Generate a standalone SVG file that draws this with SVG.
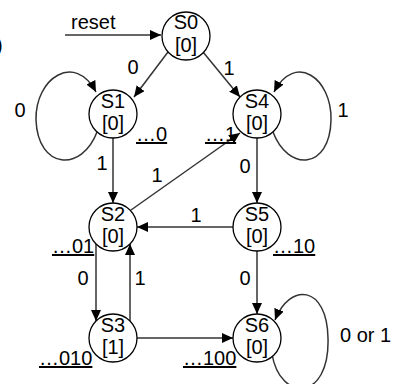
<svg xmlns="http://www.w3.org/2000/svg" width="395" height="384" viewBox="0 0 395 384">
<defs>
<marker id="ah" markerWidth="11" markerHeight="10" refX="11" refY="5" orient="auto" markerUnits="userSpaceOnUse">
<path d="M0,0 L11,5 L0,10 Z" fill="#000"/>
</marker>
<style>
text{font-family:"Liberation Sans",Arial,sans-serif;font-size:20px;fill:#000}
.st{text-anchor:middle}
.c{fill:#fff;stroke:#000;stroke-width:1.3}
.e{fill:none;stroke:#333;stroke-width:1.5;marker-end:url(#ah)}
.u{text-decoration:underline}
</style>
</defs>
<rect width="395" height="384" fill="#fff"/>
<text x="-4" y="52">)</text>
<g id="connectors">
<line class="e" x1="65" y1="35" x2="161" y2="35"/>
<line class="e" x1="168" y1="52" x2="134" y2="97"/>
<line class="e" x1="203" y1="52" x2="240" y2="97"/>
<path class="e" d="M97,132 C82,172 38,170 36,120 C35,78 75,52 96,92"/>
<path class="e" d="M273,132 C288,172 330,170 331,120 C332,78 295,52 274,92"/>
<line class="e" x1="113" y1="138" x2="113" y2="203"/>
<line class="e" x1="257" y1="138" x2="257" y2="203"/>
<line class="e" x1="131" y1="210" x2="240" y2="133"/>
<line class="e" x1="233" y1="227" x2="137" y2="227"/>
<line class="e" x1="96" y1="244" x2="96" y2="321"/>
<line class="e" x1="130" y1="321" x2="130" y2="244"/>
<line class="e" x1="137" y1="338" x2="233" y2="338"/>
<line class="e" x1="257" y1="251" x2="257" y2="314"/>
<path class="e" d="M272,354 C280,402 330,402 328,338 C327,285 290,282 275,320"/>
<text x="71" y="29">reset</text>
<text class="st" x="133" y="74">0</text>
<text class="st" x="229" y="75">1</text>
<text class="st" x="20" y="117">0</text>
<text class="st" x="343" y="117">1</text>
<text class="st" x="102" y="170">1</text>
<text class="st" x="157" y="182">1</text>
<text class="st" x="245" y="173">0</text>
<text class="st" x="196" y="222">1</text>
<text class="st" x="83" y="285">0</text>
<text class="st" x="140" y="285">1</text>
<text class="st" x="245" y="285">0</text>
<text x="340" y="342">0 or 1</text>
<text class="u" x="136" y="141">…0</text>
<text class="u" x="205" y="141">…1</text>
<text class="u" x="52" y="253">…01</text>
<text class="u" x="273" y="253">…10</text>
<text class="u" x="39" y="365">…010</text>
<text class="u" x="183" y="365">…100</text>
</g>
<g id="S0"><circle class="c" cx="186" cy="36" r="24"/><text class="st" x="186" y="29">S0</text><text class="st" x="186" y="52">[0]</text></g>
<g id="S1"><circle class="c" cx="113" cy="114" r="24"/><text class="st" x="113" y="108">S1</text><text class="st" x="113" y="130">[0]</text></g>
<g id="S4"><circle class="c" cx="257" cy="114" r="24"/><text class="st" x="257" y="108">S4</text><text class="st" x="257" y="130">[0]</text></g>
<g id="S2"><circle class="c" cx="113" cy="227" r="24"/><text class="st" x="113" y="221">S2</text><text class="st" x="113" y="243">[0]</text></g>
<g id="S5"><circle class="c" cx="257" cy="227" r="24"/><text class="st" x="257" y="221">S5</text><text class="st" x="257" y="243">[0]</text></g>
<g id="S3"><circle class="c" cx="113" cy="338" r="24"/><text class="st" x="113" y="332">S3</text><text class="st" x="113" y="354">[1]</text></g>
<g id="S6"><circle class="c" cx="257" cy="338" r="24"/><text class="st" x="257" y="332">S6</text><text class="st" x="257" y="354">[0]</text></g>
</svg>
